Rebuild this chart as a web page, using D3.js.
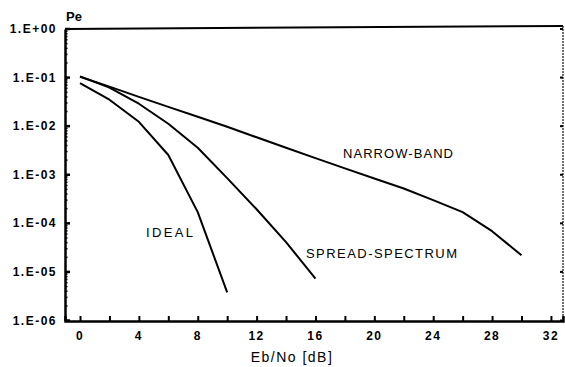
<!DOCTYPE html>
<html>
<head>
<meta charset="utf-8">
<script src="https://cdn.jsdelivr.net/npm/d3@7"></script>
<style>
  body { margin: 0; background: #fff; }
  svg text { font-family: "Liberation Sans", Arial, sans-serif; fill: #000; }
</style>
</head>
<body>
<svg id="chart" width="565" height="367"></svg>
<script>
// Eb/No [dB] vs. bit error probability
const idealDb = [0, 2, 4, 6, 8, 10]
const idealPe = [7.7e-2, 3.5e-2, 1.23e-2, 2.55e-3, 1.7e-4, 3.8e-6]

const spreadDb = [0, 2, 4, 6, 8, 10, 12, 14, 16]
const spreadPe = [1.06e-1, 6.2e-2, 2.9e-2, 1.12e-2, 3.6e-3, 8.5e-4, 1.95e-4, 4.1e-5, 7.3e-6]

const narrowDb = [0, 2, 4, 6, 8, 10, 12, 14, 16, 18, 20, 22, 24, 26, 28, 30]
const narrowPe = [1.04e-1, 6.5e-2, 4.0e-2, 2.5e-2, 1.56e-2, 9.7e-3, 5.9e-3, 3.6e-3,
                  2.2e-3, 1.35e-3, 8.4e-4, 5.2e-4, 3.0e-4, 1.7e-4, 6.9e-5, 2.2e-5]

const xTickValues = [0, 4, 8, 12, 16, 20, 24, 28, 32]
const yTickLabels = ['1.E-06', '1.E-05', '1.E-04', '1.E-03', '1.E-02', '1.E-01', '1.E+00']
const curveNames = ['IDEAL', 'SPREAD-SPECTRUM', 'NARROW-BAND']

const svg = d3.select('#chart')

const frame = { left: 65, right: 563, top: 28, bottom: 321 }

const x = d3.scaleLinear()
    .domain([-1.02, 32.82])
    .range([frame.left, frame.right])

const y = d3.scaleLog()
    .domain([1e-6, 1])
    .range([320.5, 29])

// frame
svg.append('line')
    .attr('x1', frame.left).attr('x2', frame.right)
    .attr('y1', frame.top + 1).attr('y2', frame.top - 2)
    .attr('stroke', '#000').attr('stroke-width', 2)
svg.append('line')
    .attr('x1', frame.right).attr('x2', frame.right)
    .attr('y1', frame.top - 2).attr('y2', frame.bottom)
    .attr('stroke', '#222').attr('stroke-width', 1.3)
    .attr('stroke-dasharray', '2,1')

// bottom axis, ticks pointing inward every 2 dB
const xAxis = d3.axisBottom(x)
    .tickValues(d3.range(0, 33, 2))
    .tickSize(-5)
    .tickFormat('')
const gx = svg.append('g')
    .attr('transform', `translate(0,${frame.bottom})`)
    .call(xAxis)
gx.select('.domain').attr('stroke-width', 2.5)
gx.selectAll('.tick line').attr('stroke-width', 2)

gx.selectAll('.xlabel')
    .data(xTickValues)
    .enter().append('text')
    .attr('class', 'xlabel')
    .attr('x', d => x(d))
    .attr('y', 19)
    .attr('text-anchor', 'middle')
    .attr('font-size', 12)
    .attr('font-weight', 'bold')
    .style('letter-spacing', '1.5px')
    .text(d => d)

// left axis, log with minor ticks
const gy = svg.append('g')
    .attr('transform', `translate(${frame.left},0)`)
    .call(d3.axisLeft(y).tickValues([]).tickSizeOuter(0))
gy.select('.domain').attr('stroke-width', 2.5)

const isDecade = d => Math.abs(Math.log10(d) - Math.round(Math.log10(d))) < 1e-6

gy.selectAll('.minor')
    .data(y.ticks())
    .enter().append('line')
    .attr('class', 'minor')
    .attr('x1', 0)
    .attr('x2', d => isDecade(d) ? 5 : 2.5)
    .attr('y1', d => y(d)).attr('y2', d => y(d))
    .attr('stroke', '#000')
    .attr('stroke-width', d => isDecade(d) ? 2.5 : 1.5)

const decades = yTickLabels.map((t, i) => Math.pow(10, i - 6))

gy.selectAll('.ylabel')
    .data(decades)
    .enter().append('text')
    .attr('class', 'ylabel')
    .attr('x', -8)
    .attr('y', d => y(d) + 4)
    .attr('text-anchor', 'end')
    .attr('font-size', 12)
    .attr('font-weight', 'bold')
    .style('letter-spacing', '1.5px')
    .text((d, i) => yTickLabels[i])

// right side decade ticks
svg.selectAll('.rtick')
    .data(decades)
    .enter().append('line')
    .attr('class', 'rtick')
    .attr('x1', frame.right).attr('x2', frame.right - 3)
    .attr('y1', d => y(d)).attr('y2', d => y(d))
    .attr('stroke', '#000').attr('stroke-width', 2)

// curves
const series = [
    { name: curveNames[0], db: idealDb, pe: idealPe },
    { name: curveNames[1], db: spreadDb, pe: spreadPe },
    { name: curveNames[2], db: narrowDb, pe: narrowPe }
]

const line = d3.line()
    .x(d => x(d[0]))
    .y(d => y(d[1]))

svg.selectAll('.curve')
    .data(series)
    .enter().append('path')
    .attr('class', 'curve')
    .attr('d', d => line(d.db.map((v, i) => [v, d.pe[i]])))
    .attr('fill', 'none')
    .attr('stroke', '#000')
    .attr('stroke-width', 2)
    .attr('stroke-linejoin', 'round')

// curve labels
const labelPos = [
    { x: 146, y: 237, w: 47 },
    { x: 306, y: 258, w: 151 },
    { x: 343, y: 158, w: 110 }
]

svg.selectAll('.clabel')
    .data(series)
    .enter().append('text')
    .attr('class', 'clabel')
    .attr('x', (d, i) => labelPos[i].x)
    .attr('y', (d, i) => labelPos[i].y)
    .attr('font-size', 13)
    .attr('textLength', (d, i) => labelPos[i].w)
    .attr('lengthAdjust', 'spacing')
    .text(d => d.name)

// axis titles
svg.append('text')
    .attr('x', 66).attr('y', 21)
    .attr('font-size', 13)
    .attr('font-weight', 'bold')
    .text('Pe')

svg.append('text')
    .attr('x', 292).attr('y', 362)
    .attr('text-anchor', 'middle')
    .attr('font-size', 14)
    .style('letter-spacing', '1.5px')
    .text('Eb/No [dB]')
</script>
</body>
</html>
